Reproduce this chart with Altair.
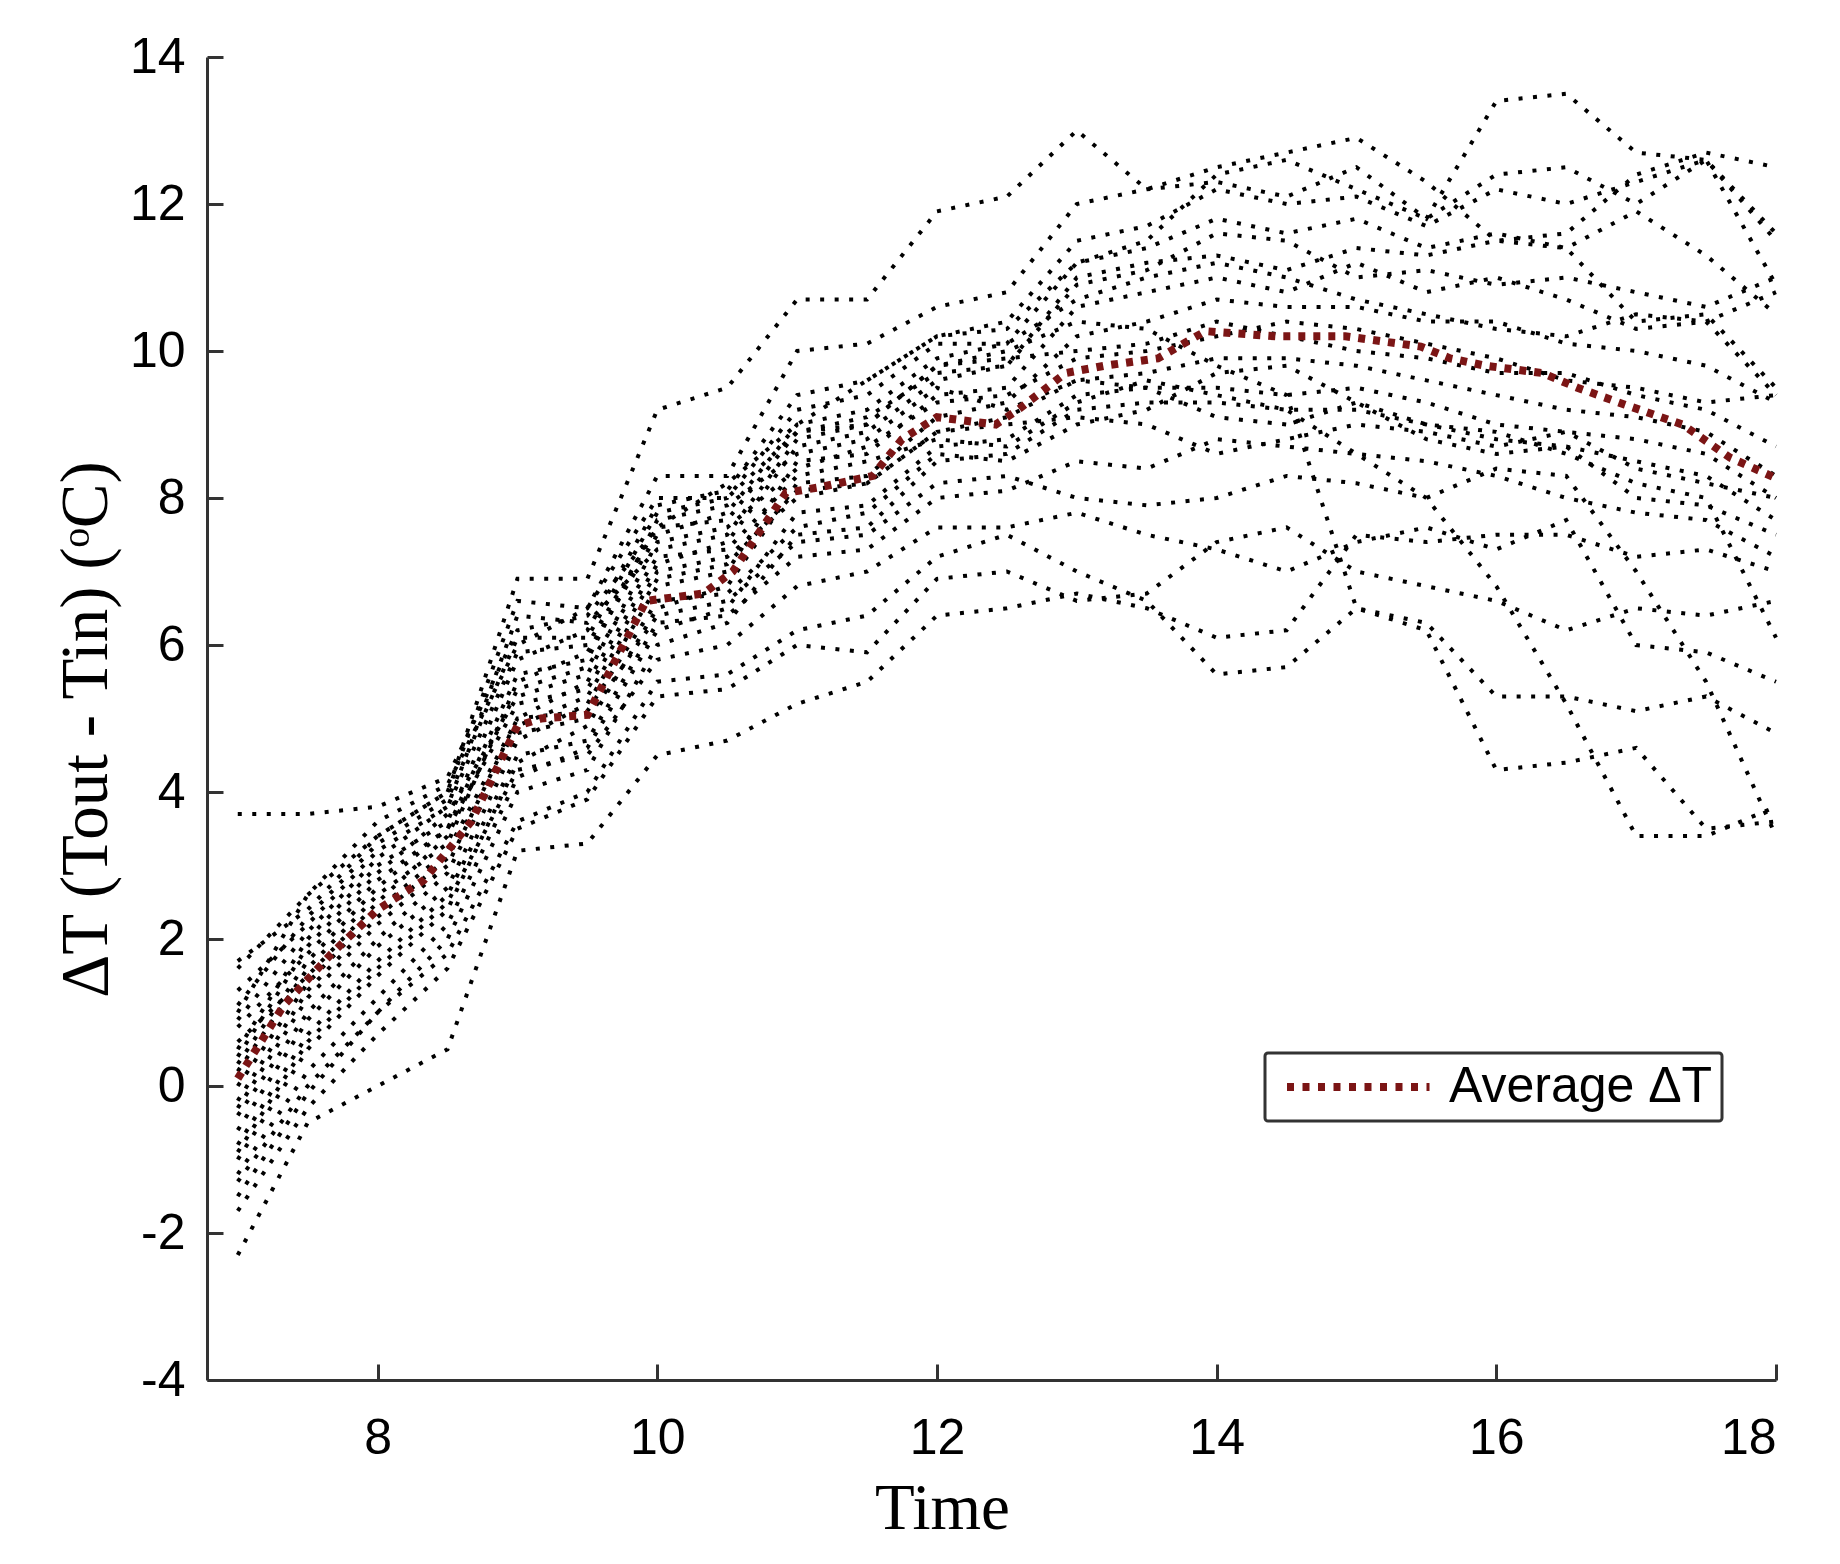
import altair as alt
import pandas as pd

# time of day (hours), half-hour steps
time_pts = [7.0, 7.5, 8.0, 8.5, 9.0, 9.5, 10.0, 10.5, 11.0, 11.5, 12.0, 12.5,
            13.0, 13.5, 14.0, 14.5, 15.0, 15.5, 16.0, 16.5, 17.0, 17.5, 18.0]

# individual daily ΔT curves (°C)
s01 = [3.7, 3.7, 3.8, 4.2, 6.2, 6.4, 7.6, 8.2, 9.0, 9.6, 10.2, 10.3, 11.2, 11.5, 12.4, 12.6, 12.2, 11.8, 12.4, 12.5, 12.0, 12.6, 11.6]
s02 = [1.7, 2.4, 3.4, 4.0, 6.9, 6.9, 9.2, 9.5, 10.7, 10.7, 11.9, 12.1, 13.0, 12.2, 12.5, 12.7, 12.9, 12.3, 11.5, 11.6, 12.4, 12.7, 12.5]
s03 = [1.0, 2.6, 3.6, 4.1, 6.0, 6.5, 8.3, 8.3, 10.0, 10.1, 10.6, 10.8, 12.0, 12.2, 12.3, 12.1, 12.5, 11.8, 13.4, 13.5, 12.7, 12.6, 11.5]
s04 = [0.5, 2.0, 3.0, 3.6, 5.8, 6.2, 7.9, 8.1, 9.4, 9.6, 10.2, 10.4, 11.5, 11.7, 12.2, 12.0, 12.1, 11.7, 12.2, 12.0, 12.3, 12.6, 10.9]
s05 = [0.2, 1.6, 2.6, 3.3, 5.5, 5.9, 7.5, 7.8, 9.0, 9.2, 9.9, 10.1, 11.2, 11.4, 11.8, 11.6, 11.8, 11.4, 11.6, 11.4, 11.9, 11.3, 10.5]
s06 = [-0.3, 1.2, 2.2, 3.0, 5.0, 5.5, 7.1, 7.4, 8.7, 8.9, 9.6, 9.8, 11.0, 11.2, 11.3, 11.1, 11.4, 11.3, 11.5, 11.4, 10.4, 10.5, 9.5]
s07 = [-0.6, 0.9, 1.9, 2.7, 4.7, 5.2, 6.8, 7.0, 8.5, 8.6, 9.4, 9.5, 10.6, 10.8, 11.0, 10.8, 11.2, 10.8, 11.0, 10.7, 10.3, 10.4, 9.4]
s08 = [-1.0, 0.5, 1.5, 2.4, 4.4, 4.9, 6.5, 6.8, 8.2, 8.3, 9.1, 9.3, 10.2, 10.4, 10.7, 10.6, 10.6, 10.4, 10.4, 10.1, 10.0, 9.8, 9.3]
s09 = [1.3, 2.2, 3.2, 3.8, 6.4, 6.3, 7.3, 7.5, 8.8, 9.0, 9.8, 9.9, 10.0, 10.1, 10.4, 10.2, 10.0, 9.9, 9.7, 9.7, 9.4, 9.2, 8.7]
s10 = [0.8, 1.8, 2.8, 3.5, 5.2, 5.4, 7.0, 7.2, 8.0, 8.2, 8.9, 9.1, 9.6, 9.7, 9.9, 9.9, 9.8, 9.6, 9.4, 9.2, 9.1, 8.9, 8.3]
s11 = [-1.2, 0.2, 1.2, 2.2, 4.2, 4.6, 6.2, 6.5, 7.8, 7.9, 8.7, 8.8, 9.4, 9.5, 9.5, 9.4, 9.5, 9.3, 9.0, 8.9, 8.8, 8.6, 8.0]
s12 = [-1.5, -0.1, 1.0, 2.0, 4.0, 4.3, 6.0, 6.3, 7.5, 7.6, 8.5, 8.6, 9.2, 9.3, 9.3, 9.2, 9.2, 9.0, 8.8, 8.7, 8.5, 8.3, 7.7]
s13 = [0.0, 1.4, 2.4, 3.2, 5.0, 5.1, 6.6, 6.7, 7.6, 7.8, 8.6, 8.5, 9.0, 9.2, 9.7, 9.8, 9.3, 8.8, 8.6, 8.7, 8.0, 7.9, 7.5]
s14 = [-0.8, 0.7, 1.7, 2.6, 4.5, 4.7, 6.3, 6.4, 7.2, 7.3, 8.0, 8.1, 8.5, 8.4, 8.8, 8.7, 8.6, 8.5, 8.3, 8.0, 7.8, 7.7, 7.2]
s15 = [-2.3, -0.5, 0.0, 0.5, 3.2, 3.3, 4.5, 4.7, 5.2, 5.5, 6.4, 6.5, 6.7, 6.5, 6.1, 6.2, 7.5, 7.4, 7.5, 7.5, 7.2, 7.3, 7.0]
s16 = [-1.3, 0.0, 1.0, 1.8, 3.6, 4.0, 5.5, 5.6, 6.2, 6.4, 7.2, 7.5, 7.0, 6.6, 5.6, 5.7, 6.5, 6.3, 5.3, 5.3, 5.1, 5.3, 4.8]
s17 = [1.6, 2.6, 3.4, 4.0, 6.6, 6.5, 8.0, 8.0, 8.9, 9.0, 9.8, 10.0, 10.4, 10.3, 9.8, 9.4, 6.5, 6.2, 4.3, 4.4, 4.6, 3.5, 3.6]
s18 = [0.6, 1.5, 2.5, 3.4, 5.4, 5.7, 7.2, 7.3, 8.3, 8.5, 8.8, 8.7, 9.3, 9.6, 9.4, 9.2, 8.6, 8.0, 6.8, 5.2, 3.4, 3.4, 3.8]
s19 = [-0.4, 1.0, 2.0, 2.9, 4.8, 5.0, 6.4, 6.6, 7.4, 7.5, 8.2, 8.3, 8.0, 7.9, 8.0, 8.3, 8.2, 8.0, 8.4, 8.3, 7.0, 5.5, 3.4]
s20 = [0.3, 1.7, 2.7, 3.5, 5.6, 5.8, 7.7, 7.9, 8.6, 8.8, 9.5, 9.2, 9.6, 9.5, 9.1, 9.0, 9.3, 9.0, 8.9, 8.6, 8.2, 8.0, 6.1]
s21 = [-0.9, 0.6, 1.6, 2.5, 4.3, 4.5, 5.8, 6.0, 6.8, 7.0, 7.6, 7.6, 7.8, 7.5, 7.3, 7.0, 7.4, 7.6, 7.3, 7.7, 6.0, 5.9, 5.5]
s22 = [1.1, 2.3, 3.3, 3.9, 6.1, 6.1, 7.8, 8.0, 9.2, 9.4, 10.1, 10.1, 10.7, 11.0, 11.2, 11.0, 10.7, 10.5, 10.3, 10.2, 10.5, 10.4, 10.8]
s23 = [0.4, 1.9, 2.9, 3.7, 5.3, 5.6, 7.4, 7.6, 8.4, 8.7, 9.3, 9.4, 9.9, 10.0, 10.2, 10.4, 10.3, 10.1, 9.9, 9.6, 9.5, 9.3, 9.4]
s24 = [-0.2, 1.3, 2.3, 3.1, 4.9, 5.3, 6.9, 7.1, 8.1, 8.2, 8.9, 9.0, 9.1, 9.0, 8.6, 8.8, 9.0, 8.9, 8.7, 8.9, 8.4, 8.2, 8.0]
s25 = [-1.7, -0.3, 0.7, 1.6, 3.5, 3.9, 5.3, 5.4, 6.0, 5.9, 6.9, 7.0, 6.6, 6.7, 7.4, 7.6, 7.0, 6.8, 6.6, 6.2, 6.5, 6.4, 6.6]
s26 = [0.9, 2.1, 3.1, 3.8, 5.9, 6.0, 7.6, 7.7, 8.9, 9.1, 9.7, 9.8, 10.9, 11.1, 11.6, 11.5, 11.0, 11.1, 10.9, 11.0, 10.8, 10.6, 11.0]

all_series = [s01, s02, s03, s04, s05, s06, s07, s08, s09, s10, s11, s12, s13,
              s14, s15, s16, s17, s18, s19, s20, s21, s22, s23, s24, s25, s26]

# average ΔT curve
avg_time = [7.0, 7.33, 7.67, 8.0, 8.33, 8.67, 9.0, 9.17, 9.5, 9.92, 10.33, 10.54,
            10.92, 11.17, 11.54, 11.75, 12.0, 12.42, 12.58, 12.92, 13.2, 13.58,
            13.92, 14.42, 14.92, 15.46, 15.67, 15.92, 16.33, 16.58, 16.92, 17.33,
            17.67, 18.0]
avg_val = [0.1, 1.1, 1.8, 2.4, 2.8, 3.6, 4.9, 5.0, 5.05, 6.6, 6.7, 7.0,
           8.07, 8.15, 8.3, 8.8, 9.1, 9.0, 9.2, 9.7, 9.8, 9.9,
           10.27, 10.2, 10.2, 10.06, 9.9, 9.8, 9.7, 9.5, 9.27, 9.0,
           8.55, 8.27]
avg_label = "Average ΔT"

x_ticks = [8, 10, 12, 14, 16, 18]
y_ticks = [-4, -2, 0, 2, 4, 6, 8, 10, 12, 14]

rows = []
for k, s in enumerate(all_series):
    for t, v in zip(time_pts, s):
        rows.append({"day": k, "time": t, "dT": v})
df = pd.DataFrame(rows)
avg_df = pd.DataFrame({"time": avg_time, "dT": avg_val, "label": [avg_label] * len(avg_time)})

W, H = 1569, 1323
xscale = alt.Scale(domain=[6.78, 18], nice=False, zero=False)
yscale = alt.Scale(domain=[-4, 14], nice=False, zero=False)

label_font = "Liberation Sans"
title_font = "Liberation Serif"
red = "#7b1515"

lines = alt.Chart(df).mark_line(
    color="#000000", strokeWidth=4, strokeDash=[4, 10.5], strokeCap="butt"
).encode(
    x=alt.X("time:Q", scale=xscale,
            axis=alt.Axis(orient="bottom", values=x_ticks, ticks=False, tickSize=0,
                          grid=False, domainColor="#333333", domainWidth=3,
                          labelFont=label_font, labelFontSize=50, labelColor="black",
                          labelPadding=33, labelExpr="'' + datum.value",
                          title="Time", titleFont=title_font, titleFontSize=65,
                          titleFontWeight="normal", titleColor="black",
                          titleX=735, titleY=128, titleBaseline="middle",
                          titleAlign="center")),
    y=alt.Y("dT:Q", scale=yscale,
            axis=alt.Axis(orient="left", values=y_ticks, ticks=False, tickSize=0,
                          grid=False, domainColor="#333333", domainWidth=3,
                          labelFont=label_font, labelFontSize=50, labelColor="black",
                          labelPadding=22, labelExpr="'' + datum.value",
                          title="ΔT (Tout - Tin) (ᵒC)", titleFont=title_font,
                          titleFontSize=67, titleFontWeight="normal", titleColor="black",
                          titleX=-121, titleY=672, titleAngle=270,
                          titleBaseline="middle", titleAlign="center")),
    detail="day:N",
)

avg = alt.Chart(avg_df).mark_line(
    strokeWidth=8, strokeDash=[7, 8], strokeCap="butt"
).encode(
    x=alt.X("time:Q", scale=xscale,
            axis=alt.Axis(orient="top", offset=-H, values=x_ticks, labels=False,
                          domain=False, grid=False, ticks=True, tickSize=16,
                          tickWidth=3, tickColor="#333333", title=None)),
    y=alt.Y("dT:Q", scale=yscale,
            axis=alt.Axis(orient="right", offset=-W, values=y_ticks, labels=False,
                          domain=False, grid=False, ticks=True, tickSize=16,
                          tickWidth=3, tickColor="#333333", title=None)),
    color=alt.Color("label:N",
                    scale=alt.Scale(domain=[avg_label], range=[red]),
                    legend=alt.Legend(orient="none", legendX=1058, legendY=996,
                                      title=None, strokeColor="#333333",
                                      fillColor="white", padding=9, cornerRadius=3,
                                      symbolType="M-1,0L8.5,0", symbolSize=900,
                                      symbolOffset=3,
                                      symbolStrokeWidth=8, symbolDash=[7, 8.5],
                                      labelFont=label_font, labelFontSize=50,
                                      labelColor="black", labelOffset=122,
                                      labelLimit=0)),
)

chart = alt.layer(lines, avg).properties(
    width=W, height=H,
    autosize=alt.AutoSizeParams(type="none"),
    padding={"left": 199, "top": 49, "right": 56, "bottom": 170},
    background="white",
).configure_view(stroke=None).configure_legend(strokeWidth=3)

chart.save("out.html", embed_options={"renderer": "svg", "actions": False})
